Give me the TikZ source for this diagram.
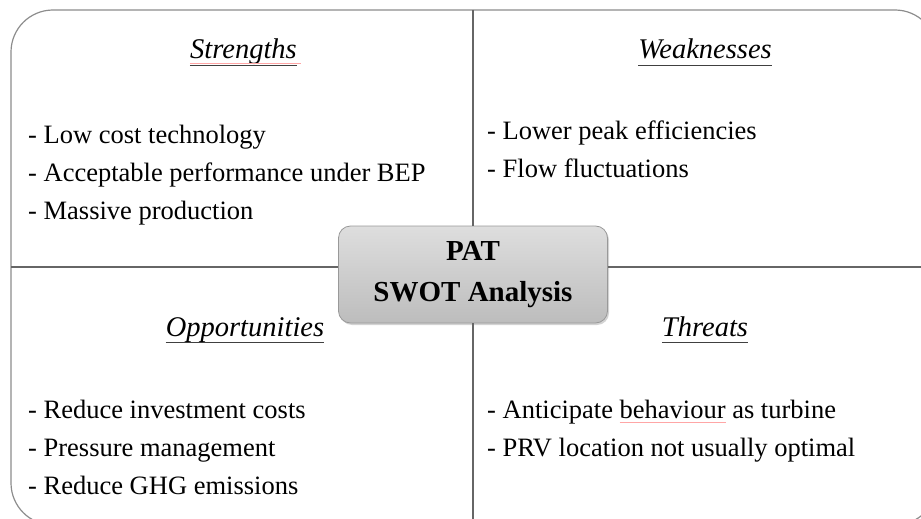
\documentclass[tikz,border=0pt]{standalone}
\usepackage{fontspec}
\setmainfont{Liberation Serif}
\usetikzlibrary{shadows}
\newcommand\spellmark[1]{\setbox0\hbox{#1}\rlap{\textcolor{red!35}{\rule[-4.5pt]{\wd0}{0.8pt}}}\box0\relax}
\begin{document}
\begin{tikzpicture}[x=1pt,y=-1pt,
  frame/.style={draw=black!45,line width=1.2pt},
  divider/.style={draw=black!60,line width=1.6pt},
  body/.style={anchor=base west,inner sep=0pt,font=\fontsize{26.5}{30}\selectfont},
  head/.style={anchor=base,inner sep=0pt,font=\fontsize{28.5}{32}\selectfont\itshape},
  uline/.style={draw=black!75,line width=1.3pt},
  spell/.style={draw=red!35,line width=0.8pt},
  centerbox/.style={draw=black!40,line width=0.8pt,rounded corners=12pt,
    top color=black!13,bottom color=black!26,
    drop shadow={opacity=0.35,shadow xshift=1.5pt,shadow yshift=-2pt},
    minimum width=269pt,minimum height=97pt,align=center,
    font=\fontsize{29}{41}\selectfont\bfseries}]
\useasboundingbox (0,0) rectangle (921,519);
% outer frame
\draw[frame,rounded corners=42pt] (11,10) rectangle (937,525);
\coordinate (ftop) at (473,10);
\coordinate (fbot) at (473,525);
\coordinate (fleft) at (11,267);
\coordinate (fright) at (937,267);
% centre box
\node[centerbox] (c) at (473,274.5) {PAT\\SWOT Analysis};
\draw[divider] (ftop) -- (ftop |- c.north);
\draw[divider] (fbot |- c.south) -- (fbot);
\draw[divider] (fleft) -- (fleft -| c.west);
\draw[divider] (fright -| c.east) -- (fright);
% headings
\node[head] (hs) at (243.5,59) {Strengths};
\node[head] (hw) at (705,59) {Weaknesses};
\node[head] (ho) at (245,336) {Opportunities};
\node[head] (ht) at (705,336) {Threats};
\draw[spell] ([yshift=-4.5pt]hs.base west) -- ([yshift=-4.5pt,xshift=4pt]hs.base east);
\foreach \h in {hs,hw,ho,ht}{
  \draw[uline] ([yshift=-6.5pt]\h.base west) -- ([yshift=-6.5pt]\h.base east);
}
% strengths
\node[body] (s1) at (28,143) {- Low cost technology};
\node[body] (s2) at (28,181) {- Acceptable performance under BEP};
\node[body] (s3) at (28,219) {- Massive production};
% weaknesses
\node[body] (w1) at (487,139) {- Lower peak efficiencies};
\node[body] (w2) at (487,177) {- Flow fluctuations};
% opportunities
\node[body] (o1) at (28,418) {- Reduce investment costs};
\node[body] (o2) at (28,456) {- Pressure management};
\node[body] (o3) at (28,494) {- Reduce GHG emissions};
% threats
\node[body] (t1) at (487,418) {- Anticipate \spellmark{behaviour} as turbine};
\node[body] (t2) at (487,456) {- PRV location not usually optimal};
\end{tikzpicture}
\end{document}
